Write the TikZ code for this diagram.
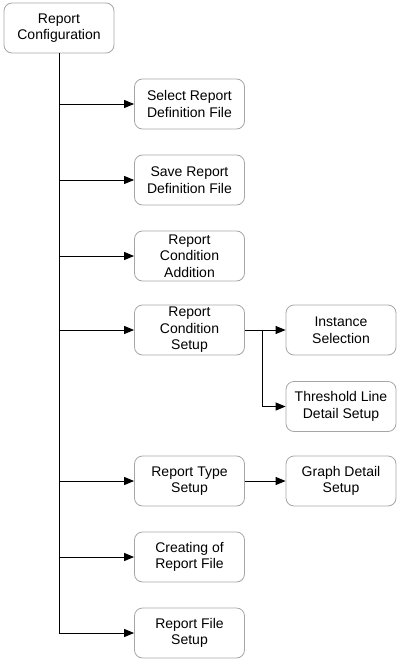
\documentclass[tikz,border=0pt]{standalone}
\usepackage{fontspec}
\setmainfont{Liberation Sans}
\usetikzlibrary{arrows.meta}
\begin{document}
\begin{tikzpicture}[x=1pt,y=-1pt,
  box/.style={draw=black!35, rounded corners=8pt, minimum width=110pt, minimum height=50pt,
    align=center, inner sep=0pt, font=\fontsize{14}{16.5}\selectfont, line width=0.8pt},
  conn/.style={line width=1pt, -{Triangle[length=10pt,width=8pt]}},
  line/.style={line width=1pt}]
\useasboundingbox (0,0) rectangle (400,661);
\node[box] (root) at (59,28) {Report\\Configuration};
\node[box] (a) at (189.5,104) {Select Report\\Definition File};
\node[box] (b) at (189.5,180) {Save Report\\Definition File};
\node[box] (c) at (189.5,256) {Report\\Condition\\Addition};
\node[box] (d) at (189.5,330) {Report\\Condition\\Setup};
\node[box] (d1) at (341,330) {Instance\\Selection};
\node[box] (d2) at (341,406.5) {Threshold Line\\Detail Setup};
\node[box] (e) at (189.5,481) {Report Type\\Setup};
\node[box] (e1) at (341,481) {Graph Detail\\Setup};
\node[box] (f) at (189.5,557) {Creating of\\Report File};
\node[box] (g) at (189.5,633) {Report File\\Setup};
\coordinate (tend) at (59,633);
\draw[line] (root.south) -- (tend);
\foreach \n in {a,b,c,d,e,f,g} {
  \draw[conn] (root.south |- \n.west) -- (\n.west);
}
\coordinate (br) at (262,330);
\draw[conn] (d.east) -- (d1.west);
\draw[line] (br) -- (br |- d2.west);
\draw[conn] (br |- d2.west) -- (d2.west);
\draw[conn] (e.east) -- (e1.west);
\end{tikzpicture}
\end{document}
